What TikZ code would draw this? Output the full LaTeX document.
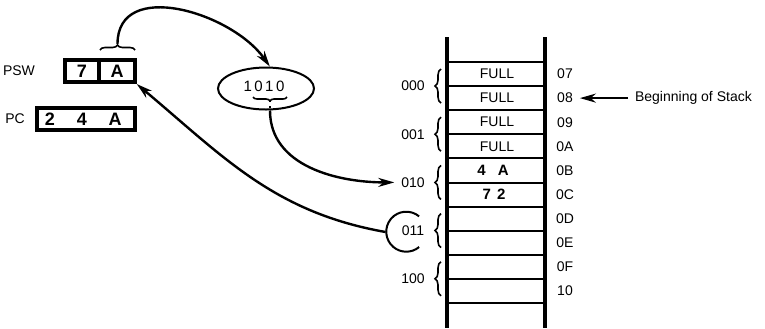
\documentclass[tikz,border=0pt]{standalone}
\usepackage{fontspec}
\setmainfont{Liberation Sans}
\usetikzlibrary{arrows.meta,shapes.geometric,decorations.pathreplacing}

\begin{document}
\begin{tikzpicture}[x=0.5pt, y=-0.5pt,
    font=\fontsize{7}{8}\selectfont,
    reg/.style={draw, line width=1.8pt, minimum height=11.25pt, inner sep=0pt},
    digit/.style={font=\fontsize{9}{10}\selectfont\bfseries},
    link/.style={line width=1.2pt, -{Stealth[length=8pt, width=4.5pt]}},
    rail/.style={line width=1.8pt},
    rung/.style={line width=1pt},
    grpbrace/.style={decorate, decoration={brace, amplitude=3pt}, line width=0.8pt}]
    \useasboundingbox (0,0) rectangle (765,328);

    % registers PSW and PC
    \node (pswlbl) at (19,71) {PSW};
    \node[reg, digit, minimum width=17pt] (psw7) at (82,71) {7};
    \node[reg, digit, minimum width=18pt] (pswA) at (117,71) {A};
    \node (pclbl) at (15,119) {PC};
    \node[reg, minimum width=49.25pt] (pc) at (86,119) {};
    \node[digit] (pc2) at (50,119) {2};
    \node[digit] (pc4) at (82,119) {4};
    \node[digit] (pcA) at (115,119) {A};
    \draw[decorate, decoration={brace, amplitude=2.5pt}, line width=0.8pt] (100,50) -- (135,50);
    \coordinate (pswtip) at (117.5,44);

    % stack pointer bits
    \node[draw, ellipse, line width=1pt, minimum width=48pt, minimum height=21pt, inner sep=0pt] (bits) at (266,88.5) {};
    \node[font=\fontsize{7.5}{8}\selectfont] (bitstxt) at (264,86) {1\,0\,1\,0};
    \draw[decorate, decoration={brace, amplitude=2pt}, line width=0.8pt] (287,97) -- (253,97);
    \coordinate (bitstip) at (270,100);
    \coordinate (bitsout) at (bitstip |- bits.south);
    \draw[dotted, line width=1pt] (bitstip) -- (bitsout);

    % stack
    \draw[rail] (447,37) -- (447,328);
    \draw[rail] (545,37) -- (545,328);
    \foreach \i in {0,...,10}
        \draw[rung] (447,{62+24.1*\i}) -- (545,{62+24.1*\i});
    \foreach \i in {0,...,3}
        \node (cell\i) at (497,{74+24.1*\i}) {FULL};
    \node[font=\fontsize{7.5}{8}\selectfont\bfseries] (cell4) at (493,{74+24.1*4}) {4\hspace{6pt}A};
    \node[font=\fontsize{7.5}{8}\selectfont\bfseries] (cell5) at (494,{74+24.1*5}) {7\hspace{3pt}2};
    \foreach \adr [count=\i from 0] in {07,08,09,0A,0B,0C,0D,0E,0F,10}
        \node (adr\i) at (565,{74+24.1*\i}) {\adr};

    % groups of two cells
    \foreach \grp [count=\i from 0] in {000,001,010,011,100} {
        \node (grp\i) at (413,{86+48.2*\i}) {\grp};
        \draw[grpbrace] (441,{86+48.2*\i+17}) -- (441,{86+48.2*\i-17});
    }
    \node[circle, minimum size=20pt, inner sep=0pt] (ring) at (406,232) {};
    \draw[line width=1pt] (ring.50) arc[start angle=50, end angle=310, radius=10pt];

    % arrows
    \draw[link] (pswtip) to[out=90, in=125, looseness=1.1] (bits.80);
    \draw[link] (bitsout) to[out=-90, in=180] (grp2.west);
    \draw[link] (ring.west) to[out=170, in=-40] (pswA.south east);
    \node[anchor=west] (stackbeg) at (628,{74+24.1}) {Beginning of Stack};
    \draw[link] (stackbeg.west) -- (adr1.east);
\end{tikzpicture}
\end{document}
